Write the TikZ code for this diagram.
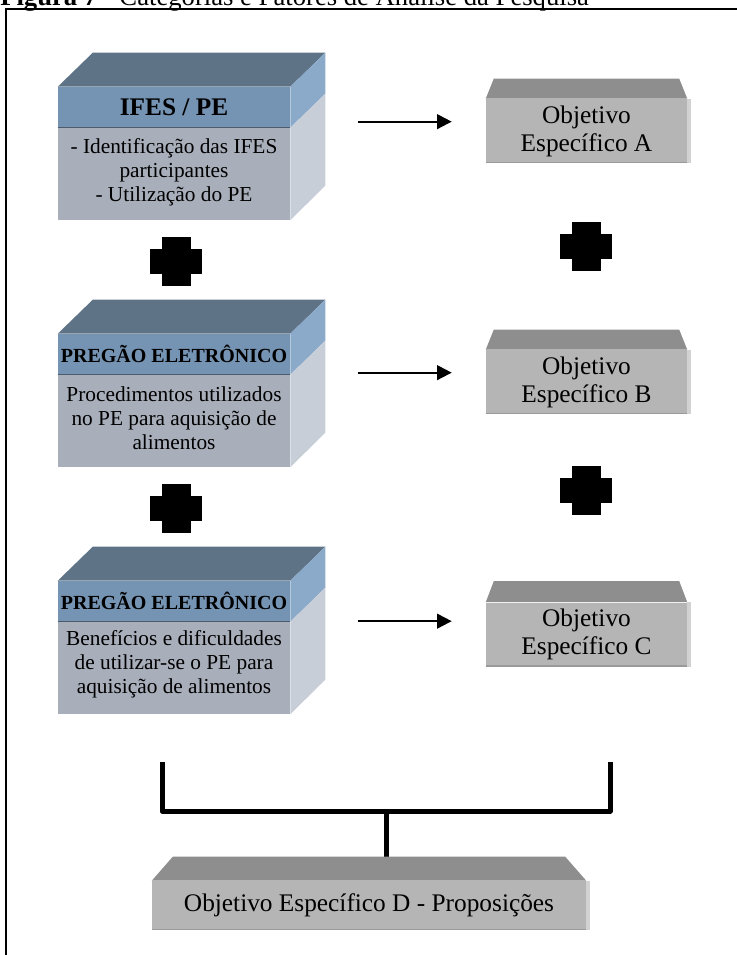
\documentclass[tikz,border=0pt]{standalone}
\usepackage{fontspec}
\setmainfont{Liberation Serif}
\usetikzlibrary{arrows.meta}
\usetikzlibrary{calc}

\definecolor{topo}{HTML}{5F7387}
\definecolor{faixa}{HTML}{7593B2}
\definecolor{faixalado}{HTML}{8BAAC9}
\definecolor{corpo}{HTML}{A8AEBA}
\definecolor{corpolado}{HTML}{C7CED8}
\definecolor{cinzatopo}{HTML}{8E8E8E}
\definecolor{cinza}{HTML}{B5B5B5}
\definecolor{cinzaclaro}{HTML}{D2D2D2}

\begin{document}
\begin{tikzpicture}[%
x=0.75pt, y=-0.75pt,
>={Triangle[length=11pt,width=11pt]},
seta/.style={->, line width=1.5pt},
cruz/.style={fill=black},
chave/.style={line width=3.75pt, line join=round},
frente/.style={minimum width=174pt, minimum height=99.75pt, inner sep=0pt},
titulo/.style={font=\bfseries\fontsize{19}{21}\selectfont, inner sep=0pt},
tituloPE/.style={font=\bfseries\fontsize{15}{17}\selectfont, inner sep=0pt},
corpotxt/.style={font=\fontsize{16}{18}\selectfont, align=center, inner sep=0pt},
objbox/.style={fill=cinza, font=\fontsize{19}{21}\selectfont, align=center, inner sep=0pt,
  minimum width=150.75pt, minimum height=48pt},
]

\useasboundingbox (0,0) rectangle (737,955);

% moldura e titulo
\draw[line width=1.5pt] (6,960) -- (6,9.5) -- (745,9.5);
\node[anchor=base west, inner sep=0pt, font=\fontsize{20}{22}\selectfont] (legenda) at (0,6)
  {\textbf{Figura 7} - Categorias e Fatores de Análise da Pesquisa};

% caixas da esquerda
\node[frente] (ifes)  at (174,153.5) {};
\node[frente] (proc)  at (174,400.5) {};
\node[frente] (benef) at (174,647.5) {};

\foreach \c in {ifes,proc,benef}{
  \fill[topo] (\c.north west) -- ++(35,-34) -- ($(\c.north east)+(35,-34)$) -- (\c.north east) -- cycle;
  \fill[faixa] (\c.north west) rectangle ($(\c.north east)+(0,41)$);
  \fill[faixalado] (\c.north east) -- ++(35,-34) -- ++(0,41) -- ++(-35,34) -- cycle;
  \fill[corpo] ($(\c.north west)+(0,41)$) rectangle (\c.south east);
  \fill[corpolado] ($(\c.north east)+(0,41)$) -- ++(35,-34) -- ++(0,92) -- (\c.south east) -- cycle;
  \draw[topo!80!black, line width=0.4pt] ($(\c.north west)+(0,41)$) -- ($(\c.north east)+(0,41)$);
}

\node[titulo]   (t1) at ($(ifes.north)+(0,20.5)$) {IFES / PE};
\node[tituloPE] (t2) at ($(proc.north)+(0,20.5)$) {PREGÃO ELETRÔNICO};
\node[tituloPE] (t3) at ($(benef.north)+(0,20.5)$) {PREGÃO ELETRÔNICO};

\node[corpotxt] (c1) at ($(ifes.north)+(0,86)$) {- Identificação das IFES\\participantes\\- Utilização do PE};
\node[corpotxt] (c2) at ($(proc.north)+(0,84)$) {Procedimentos utilizados\\no PE para aquisição de\\alimentos};
\node[corpotxt] (c3) at ($(benef.north)+(0,84)$) {Benefícios e dificuldades\\de utilizar-se o PE para\\aquisição de alimentos};

% objetivos
\coordinate (chE) at (162,762);
\coordinate (chD) at (610,762);
\coordinate (chM) at (386,811);
\coordinate (topoD) at (386,857);
\draw[chave] (chE) -- (chE |- chM) -- (chD |- chM) -- (chD);
\draw[chave] (chM) -- (topoD);

\node[objbox] (objA) at (586.5,131) {Objetivo\\Específico A};
\node[objbox] (objB) at (586.5,382) {Objetivo\\Específico B};
\node[objbox] (objC) at (586.5,634.5) {Objetivo\\Específico C};
\node[objbox, minimum width=325.5pt, minimum height=36.75pt] (objD) at (369,905.5)
  {Objetivo Específico D - Proposições};

\foreach \o/\d/\h in {objA/8/20,objB/8/20,objC/8/21,objD/21/24}{
  \fill[cinzatopo] (\o.north west) -- ++(\d,-\h) -- ($(\o.north east)+(-\d,-\h)$) -- (\o.north east) -- cycle;
  \fill[cinzaclaro] (\o.north east) rectangle ($(\o.south east)+(4,0)$);
  \draw[cinza!85!black, line width=1pt] ($(\o.south west)+(0,-0.7)$) -- ($(\o.south east)+(0,-0.7)$);
}

\coordinate (aA) at ([yshift=7pt]objA.west);
\coordinate (aB) at ([yshift=7pt]objB.west);
\coordinate (aC) at ([yshift=10pt]objC.west);
\draw[seta, shorten <=51pt, shorten >=25.5pt] (ifes.east |- aA) -- (aA);
\draw[seta, shorten <=51pt, shorten >=25.5pt] (proc.east |- aB) -- (aB);
\draw[seta, shorten <=51pt, shorten >=25.5pt] (benef.east |- aC) -- (aC);

% sinais de mais
\foreach \p in {(176,261.5),(176,508.5),(586,247),(586,490)}{
  \fill[cruz] \p ++(-14.5,-24.5) rectangle ++(29,49);
  \fill[cruz] \p ++(-26,-12.5) rectangle ++(52,25);
}

\end{tikzpicture}
\end{document}
